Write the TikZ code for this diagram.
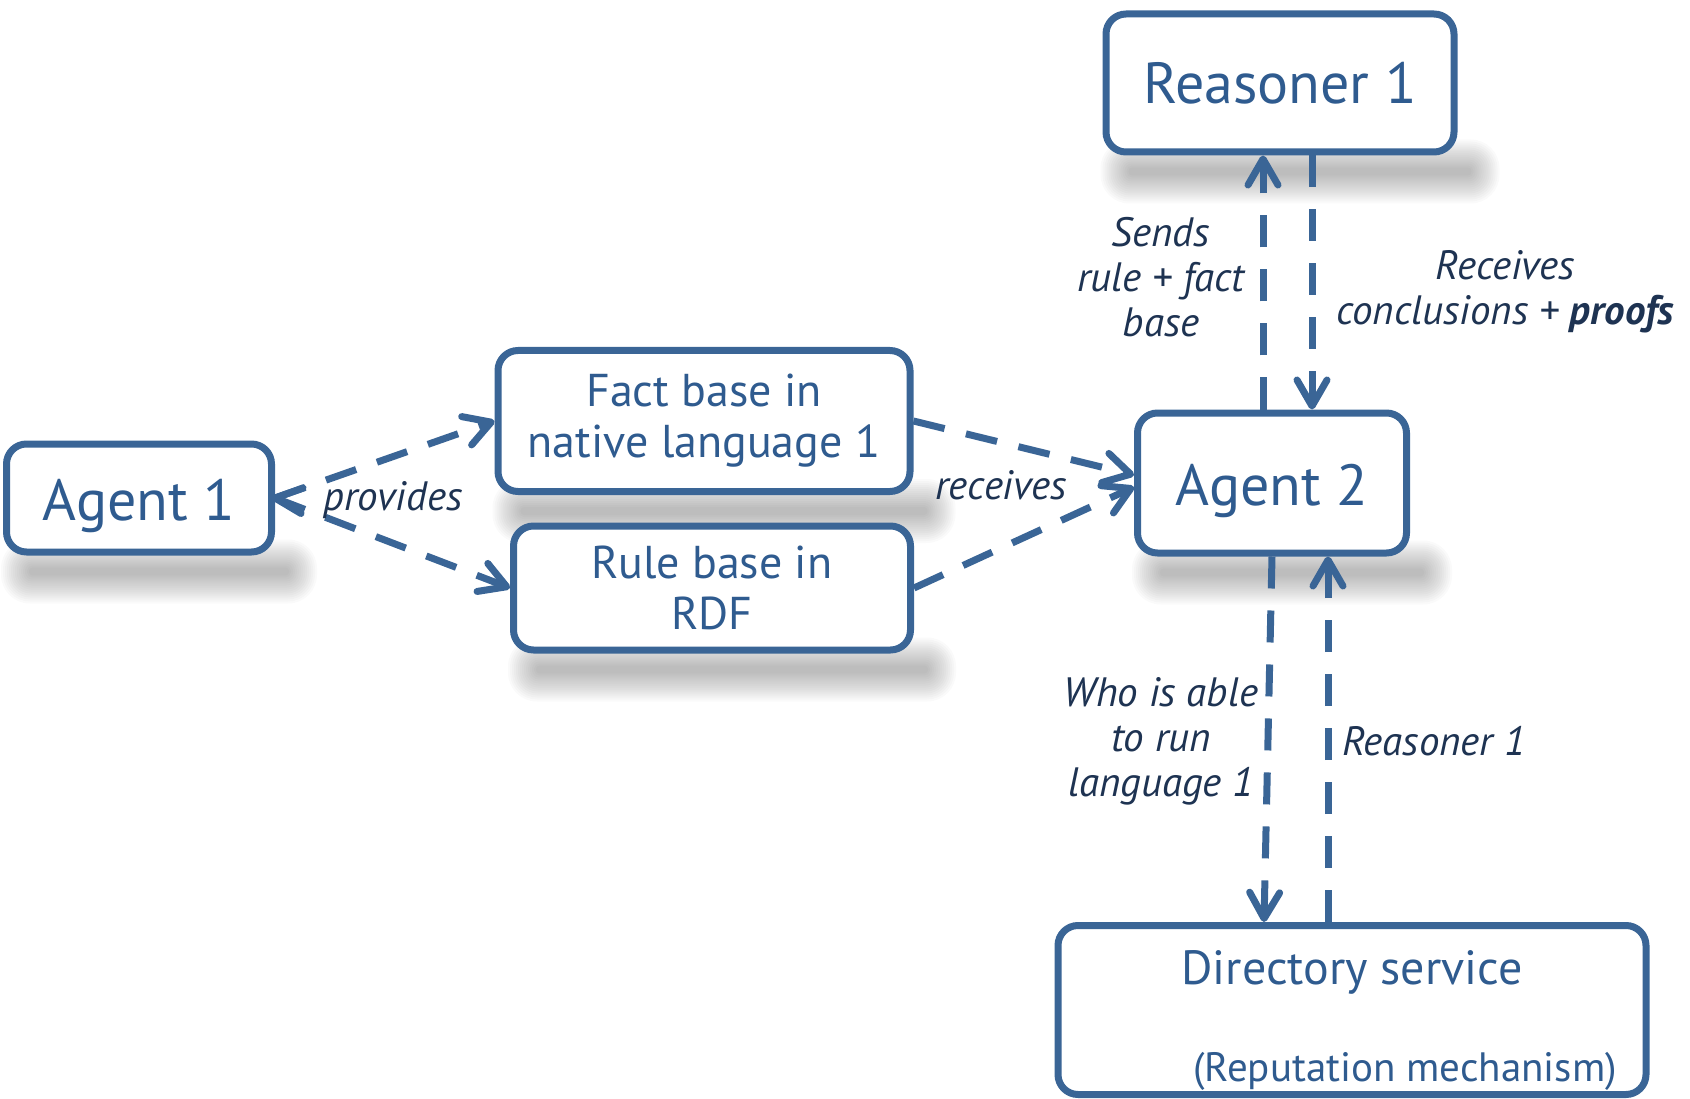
\documentclass[tikz,border=0pt]{standalone}
\usepackage{fontspec}
\setmainfont{PT Sans}
\usetikzlibrary{arrows.meta,backgrounds}
\definecolor{edgeblue}{HTML}{3A6596}
\definecolor{boxtext}{HTML}{2F5B8F}
\definecolor{labeltext}{HTML}{1E3352}
\begin{document}
\begin{tikzpicture}[x=1pt,y=-1pt,
  box/.style={draw=edgeblue, line width=7pt, rounded corners=20pt, fill=white, text=boxtext, align=center, inner sep=0pt},
  bigtext/.style={font=\fontsize{58}{63}\selectfont},
  midtext/.style={font=\fontsize{46}{51}\selectfont},
  lbl/.style={text=labeltext, font=\fontsize{41}{45}\selectfont\itshape, align=center, inner sep=0pt},
  conn/.style={draw=edgeblue, line width=7pt, dash pattern=on 32pt off 22pt, -{Straight Barb[length=26pt,width=30pt,round]}},
  tip/.style={draw=edgeblue, line width=7pt, line cap=round, line join=round},
]
\useasboundingbox (0,0) rectangle (1690,1099);

% boxes
\node[box, bigtext, text height=45pt, text depth=0pt, minimum width=265pt, minimum height=108pt] (a1) at (139,498) {Agent 1};
\node[box, midtext, minimum width=412pt, minimum height=141pt] (fact) at (704,421) {Fact base in\\native language 1};
\node[box, midtext, minimum width=397pt, minimum height=124pt] (rule) at (712,588) {Rule base in\\RDF};
\node[box, bigtext, text height=45pt, text depth=0pt, minimum width=269pt, minimum height=140pt] (a2) at (1272,483) {Agent 2};
\node[box, bigtext, minimum width=348pt, minimum height=138pt] (r1) at (1280,83) {Reasoner 1};
\node[box, minimum width=588pt, minimum height=169pt] (ds) at (1352,1010) {};
\node[text=boxtext, inner sep=0pt, font=\fontsize{48}{52}\selectfont] (dsa) at (1352,972) {Directory service};
\node[text=boxtext, inner sep=0pt, font=\fontsize{41}{46}\selectfont] (dsb) at (1405,1071) {(Reputation mechanism)};

% soft shadows below the boxes
\begin{scope}[on background layer]
\foreach \n in {a1,fact,rule,a2,r1}{
  \foreach \i in {-14,-12,...,14}{
    \pgfmathsetmacro\rr{0.45*(36-2*\i)}
    \fill[black, opacity=0.018, rounded corners=\rr pt]
      ([shift={(12+\i,-2+\i)}]\n.south west) rectangle ([shift={(28-\i,34-\i)}]\n.south east);
  }
}
\end{scope}

% connectors
\draw[conn] (a1.east) -- (fact.west);
\draw[conn] (a1.east) -- (rule.west);
\draw[tip] (a1.east) ++(28,-10) -- (a1.east) -- ++(26,15.5);
\draw[conn] (fact.east) -- ([yshift=8pt]a2.west);
\draw[conn] (rule.east) -- ([yshift=-4pt]a2.west);
\draw[conn] ([xshift=-9pt]a2.north) -- ([xshift=-17pt]r1.south);
\draw[conn] ([xshift=32pt]r1.south) -- ([xshift=40pt]a2.north);
\draw[conn] (a2.south) -- ([xshift=-88pt]ds.north);
\draw[conn] ([xshift=-24pt]ds.north) -- ([xshift=56pt]a2.south);

% labels
\node[lbl] (lprov) at (393,500) {provides};
\node[lbl] (lrec) at (1001,485) {receives};
\node[lbl] (lsend) at (1161,277) {Sends\\rule + fact\\base};
\node[lbl] (lrecv) at (1505,292) {Receives\\conclusions + \textbf{proofs}};
\node[lbl] (lwho) at (1161,741) {Who is able\\to run\\language 1};
\node[lbl, anchor=west] (lr1) at (1342,741) {Reasoner 1};
\end{tikzpicture}
\end{document}
